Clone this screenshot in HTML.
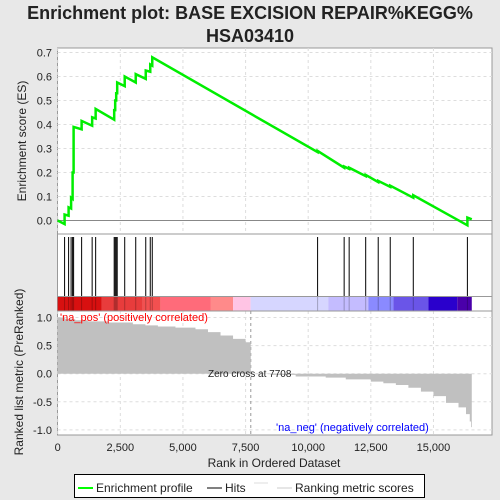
<!DOCTYPE html>
<html><head><meta charset="utf-8"><style>
body{margin:0;background:#e8e8e8;}
svg{display:block;font-family:"Liberation Sans",sans-serif;}
</style></head><body>
<svg id="c" width="500" height="500">
<text x="250" y="19" text-anchor="middle" font-size="18" font-weight="bold" fill="#222">Enrichment plot: BASE EXCISION REPAIR%KEGG%</text>
<text x="250" y="42" text-anchor="middle" font-size="18" font-weight="bold" fill="#222">HSA03410</text>
<rect x="57.5" y="48" width="434.5" height="387" fill="#fff" stroke="#999"/>
<g id="grid"></g>
<g id="es"></g>
<g id="hits"></g>
<g id="bar"></g>
<g id="metric"></g>
<line x1="57.5" y1="234" x2="492" y2="234" stroke="#999"/>
<line x1="57.5" y1="296.5" x2="492" y2="296.5" stroke="#999"/>
<line x1="57.5" y1="311" x2="492" y2="311" stroke="#999"/>
<text x="60" y="321" font-size="11" fill="#f00">'na_pos' (positively correlated)</text>
<text x="276" y="431" font-size="11" fill="#00f">'na_neg' (negatively correlated)</text>
<text x="208" y="377" font-size="10" fill="#222">Zero cross at 7708</text>
<text transform="translate(26,141) rotate(-90)" text-anchor="middle" font-size="12" fill="#222">Enrichment score (ES)</text>
<text transform="translate(23,372) rotate(-90)" text-anchor="middle" font-size="12" fill="#222">Ranked list metric (PreRanked)</text>
<text x="274" y="467" text-anchor="middle" font-size="12" fill="#222">Rank in Ordered Dataset</text>
<g>
<rect x="74.5" y="474.5" width="350" height="23" fill="#fff" stroke="#000"/>
<line x1="78" y1="488" x2="93" y2="488" stroke="#0f0" stroke-width="2"/>
<text x="96" y="492" font-size="12" fill="#222">Enrichment profile</text>
<line x1="207" y1="488" x2="222" y2="488" stroke="#000"/>
<text x="225" y="492" font-size="12" fill="#222">Hits</text>
<line x1="254" y1="483" x2="268" y2="483" stroke="#ddd"/>
<line x1="277" y1="488" x2="292" y2="488" stroke="#ccc"/>
<text x="295" y="492" font-size="12" fill="#222">Ranking metric scores</text>
</g>
<g id="axes"></g>
</svg>
<script>
const N = 16530;
const hitRanks = [275,435,535,595,635,955,1375,1515,2255,2295,2335,2375,2675,3115,3515,3695,3775,10375,11435,11635,12295,12795,13275,14195,16355];
const esBefore = [-0.015,0.02,0.05,0.09,0.2,0.38,0.395,0.425,0.42,0.46,0.5,0.53,0.56,0.575,0.59,0.62,0.645,0.285,0.22,0.215,0.185,0.16,0.14,0.095,-0.02];
const esAfter  = [0.025,0.055,0.095,0.2,0.39,0.415,0.43,0.465,0.46,0.5,0.53,0.575,0.6,0.61,0.625,0.65,0.68,0.29,0.225,0.22,0.19,0.165,0.145,0.105,0.012];
const esEnd = 0.005;
const metricRanks = [0,300,700,1200,2000,3000,3500,4000,4700,5500,6000,6500,7000,7500,7707,7708,8500,9500,10700,11500,12500,13000,13500,14000,14500,15000,15500,16000,16300,16450,16500,16530];
const metricVals  = [1.0,0.97,0.95,0.93,0.91,0.88,0.86,0.84,0.82,0.79,0.74,0.68,0.62,0.56,0.52,-0.005,-0.02,-0.05,-0.07,-0.1,-0.14,-0.17,-0.2,-0.25,-0.32,-0.4,-0.52,-0.6,-0.72,-0.85,-0.95,-1.0];
const barStops = [0,1750,3400,4100,6100,7000,7700,10800,12400,13400,14800,15950,16530];
const barColors = ['#d81010','#e83c3c','#f25050','#ff6b7a','#ff8a8a','#ffc4e4','#d6d6ff','#c4bcff','#8a8aff','#6a55e8','#2a00cc','#4a00aa'];
const esTicks = [0,0.1,0.2,0.3,0.4,0.5,0.6,0.7];
const mTicks = [1.0,0.5,0.0,-0.5,-1.0];
const xTicks = [0,2500,5000,7500,10000,12500,15000];
const xs = r => 57.7 + r*0.02505;
const ys = v => 220.5 - v*240;
const ym = v => 373.7 - v*56.2;
const NS='http://www.w3.org/2000/svg';
function mk(p,t,a){const e=document.createElementNS(NS,t);for(const k in a)e.setAttribute(k,a[k]);document.getElementById(p).appendChild(e);return e;}
esTicks.forEach(v=>{const l=mk('grid','line',{x1:57.5,x2:492,y1:ys(v),y2:ys(v),stroke:v===0?'#888':'#ddd','stroke-dasharray':v===0?'':'3,3'});


const t=mk('axes','text',{x:52,y:ys(v)+4,'text-anchor':'end','font-size':11,fill:'#222'});t.textContent=v.toFixed(1);

});
mTicks.forEach(v=>{const l=mk('grid','line',{x1:57.5,x2:492,y1:ym(v),y2:ym(v),stroke:'#ddd','stroke-dasharray':'3,3'});


const t=mk('axes','text',{x:52,y:ym(v)+4,'text-anchor':'end','font-size':11,fill:'#222'});t.textContent=v.toFixed(1);

});
xTicks.forEach(v=>{[[48,234],[311,435]].forEach(s=>{const l=mk('grid','line',{x1:xs(v),x2:xs(v),y1:s[0],y2:s[1],stroke:'#ddd','stroke-dasharray':'3,3'});

});
const t=mk('axes','text',{x:xs(v),y:451,'text-anchor':'middle','font-size':11,fill:'#222'});t.textContent=v.toLocaleString('en-US');

});
const zc=mk('grid','line',{x1:xs(7708),x2:xs(7708),y1:311,y2:435,stroke:'#999','stroke-dasharray':'3,3'});


let d='M'+xs(0)+','+ys(0);
hitRanks.forEach((r,i)=>{d+=' L'+xs(r)+','+ys(esBefore[i])+' L'+xs(r)+','+ys(esAfter[i]);});
d+=' L'+xs(N)+','+ys(esEnd);
const p=mk('es','path',{d:d,fill:'none',stroke:'#00ee00','stroke-width':2.5});


hitRanks.forEach(r=>{const l=mk('hits','line',{x1:xs(r),x2:xs(r),y1:237,y2:296,stroke:'#000','stroke-width':1});

});
barColors.forEach((c,i)=>{const r=mk('bar','rect',{x:xs(barStops[i]),y:297,width:xs(barStops[i+1])-xs(barStops[i]),height:14,fill:c});

});
hitRanks.forEach(r=>{const l=mk('bar','line',{x1:xs(r),x2:xs(r),y1:297,y2:311,stroke:'rgba(0,0,0,0.25)'});

});
let md='M'+xs(0)+','+ym(0);
for(let i=0;i<metricRanks.length;i++){md+=' L'+xs(metricRanks[i])+','+ym(metricVals[i]);if(i<metricRanks.length-1)md+=' L'+xs(metricRanks[i+1])+','+ym(metricVals[i]);}
md+=' L'+xs(N)+','+ym(0)+' Z';
const m=mk('metric','path',{d:md,fill:'#c0c0c0',stroke:'none'});


</script>
</body></html>
